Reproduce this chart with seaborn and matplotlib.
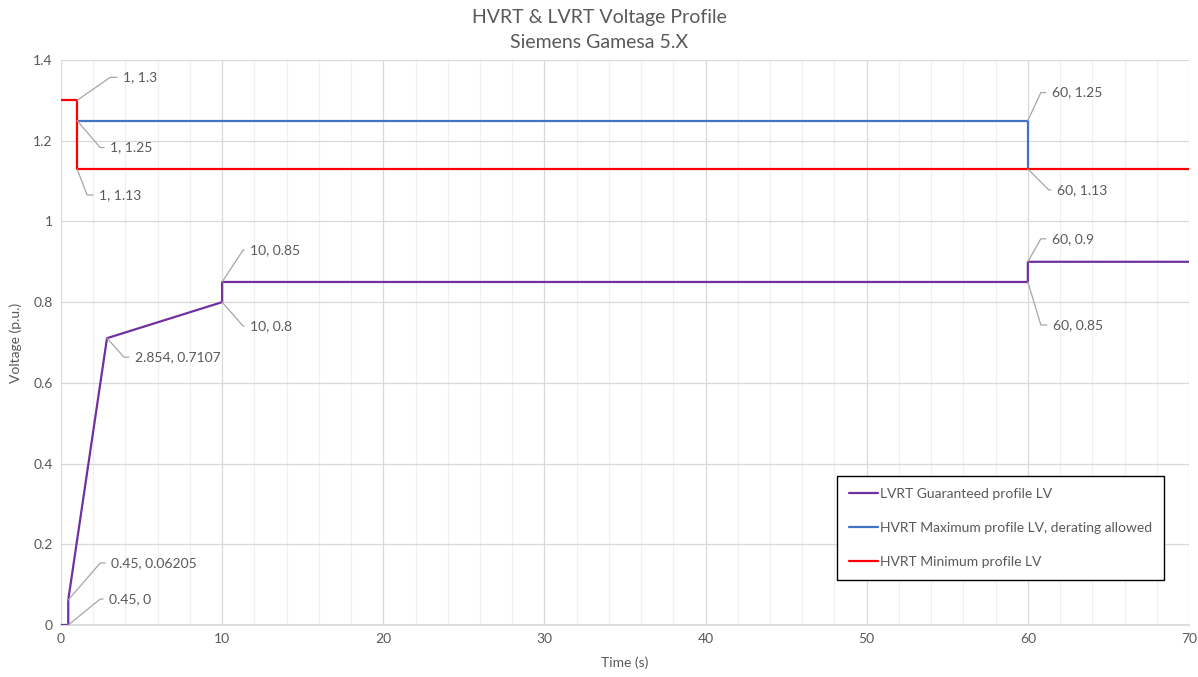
import math
import matplotlib
matplotlib.use("Agg")
import matplotlib.pyplot as plt
import seaborn as sns
import pandas as pd
from matplotlib.ticker import MultipleLocator

# ---- data ----
lvrt_time = [0, 0.45, 0.45, 2.854, 10, 10, 60, 60, 70]
lvrt_volt = [0, 0, 0.06205, 0.7107, 0.8, 0.85, 0.85, 0.9, 0.9]
hvrt_max_time = [1, 60, 60]
hvrt_max_volt = [1.25, 1.25, 1.13]
hvrt_min_time = [0, 1, 1, 70]
hvrt_min_volt = [1.3, 1.3, 1.13, 1.13]
series_labels = ["LVRT Guaranteed profile LV",
                 "HVRT Maximum profile LV, derating allowed",
                 "HVRT Minimum profile LV"]
x_ticks = [0, 10, 20, 30, 40, 50, 60, 70]
y_ticks = [0, 0.2, 0.4, 0.6, 0.8, 1.0, 1.2, 1.4]
y_tick_labels = ["0", "0.2", "0.4", "0.6", "0.8", "1", "1.2", "1.4"]
ann_x = [1, 1, 1, 0.45, 0.45, 10, 10, 2.854, 60, 60, 60, 60]
ann_y = [1.3, 1.25, 1.13, 0.06205, 0, 0.85, 0.8, 0.7107, 1.25, 1.13, 0.9, 0.85]
ann_text = ["1, 1.3", "1, 1.25", "1, 1.13", "0.45, 0.06205", "0.45, 0",
            "10, 0.85", "10, 0.8", "2.854, 0.7107", "60, 1.25", "60, 1.13",
            "60, 0.9", "60, 0.85"]

# ---- style (label offsets in pixels: text left x, text center y, knee x) ----
ann_offsets = [(46, 23, 33), (33, -27, 23), (22, -26, 10), (43, 37, 32),
               (41, 26, 32), (28, 32, 21), (28, -24, 21), (28, -19, 17),
               (24, 28, 13), (29, -21, 21), (24, 23, 13), (25, -43, 13)]
colors = ["#7030A0", "#4472C4", "#FF0000"]
txt = "#595959"

sns.set_theme(style="white")
plt.rcParams["font.family"] = ["Lato", "DejaVu Sans"]

fig = plt.figure(figsize=(11.98, 6.77), dpi=100)
ax = fig.add_axes([61 / 1198, 1 - 625 / 677, 1128 / 1198, 565 / 677])

series = [(lvrt_time, lvrt_volt), (hvrt_max_time, hvrt_max_volt), (hvrt_min_time, hvrt_min_volt)]
for (t, v), lab, c in zip(series, series_labels, colors):
    df = pd.DataFrame({"t": t, "v": v})
    sns.lineplot(data=df, x="t", y="v", sort=False, estimator=None, color=c,
                 linewidth=1.6, label=lab, ax=ax, zorder=3)

ax.set_xlim(0, 70)
ax.set_ylim(0, 1.4)
ax.set_xticks(x_ticks)
ax.set_xticklabels([str(x) for x in x_ticks])
ax.set_yticks(y_ticks)
ax.set_yticklabels(y_tick_labels)
ax.xaxis.set_minor_locator(MultipleLocator(2))
ax.grid(which="major", axis="both", color="#d9d9d9", linewidth=0.9, zorder=0)
ax.grid(which="minor", axis="x", color="#f0f0f0", linewidth=0.9, zorder=0)
ax.tick_params(axis="both", which="both", length=0, labelsize=10, colors=txt, pad=6)
for s in ax.spines.values():
    s.set_visible(False)
ax.spines["bottom"].set_visible(True)
ax.spines["bottom"].set_color("#d9d9d9")
ax.set_xlabel("Time (s)", fontsize=10, color=txt, labelpad=8)
ax.set_ylabel("Voltage (p.u.)", fontsize=10, color=txt, labelpad=8)

for x, y, s, (tx, ty, kx) in zip(ann_x, ann_y, ann_text, ann_offsets):
    ang = math.degrees(math.atan2(ty, kx))
    ax.annotate(s, xy=(x, y), xytext=(tx, ty), textcoords="offset pixels",
                ha="left", va="center", fontsize=10, color=txt, zorder=4,
                arrowprops=dict(arrowstyle="-", color="#a6a6a6", lw=0.9,
                                shrinkA=2, shrinkB=0,
                                connectionstyle=f"angle,angleA=0,angleB={ang},rad=0"))

leg = ax.legend(loc="lower left", bbox_to_anchor=(0.688, 0.08), frameon=True,
                fancybox=False, framealpha=1, edgecolor="black", fontsize=10,
                handlelength=2.1, handletextpad=0.15, labelspacing=1.6,
                borderpad=0.85, borderaxespad=0)
leg.get_frame().set_linewidth(1.0)
for t in leg.get_texts():
    t.set_color(txt)

fig.text(0.5, 1 - 30 / 677, "HVRT & LVRT Voltage Profile\nSiemens Gamesa 5.X",
         ha="center", va="center", fontsize=14, color=txt, linespacing=1.6)

fig.savefig("out.png", dpi=100)
